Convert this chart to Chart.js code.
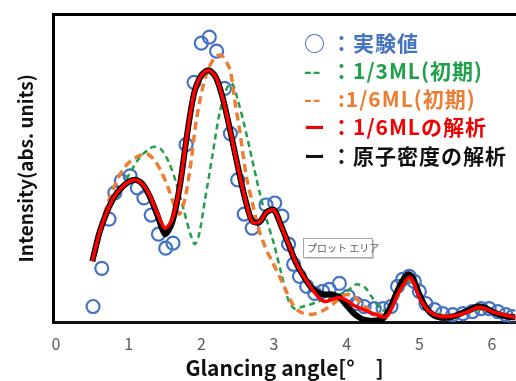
<!DOCTYPE html>
<html>
<head>
<meta charset="utf-8">
<script src="https://cdn.jsdelivr.net/npm/chart.js@4"></script>
<style>
  body { margin: 0; background: #fff; overflow: hidden; }
  #wrap { width: 516px; height: 381px; overflow: hidden; }
</style>
</head>
<body>
<div id="wrap"><canvas id="chart" width="524" height="381"></canvas></div>
<script>
// x tick labels
const tickVals = [0, 1, 2, 3, 4, 5, 6];

// experimental points (実験値)
const expX = [0.51, 0.63, 0.73, 0.81, 0.90, 1.02, 1.12, 1.21, 1.31, 1.41, 1.51, 1.61, 1.79, 1.90, 2.00, 2.11, 2.21, 2.32, 2.40, 2.50,
  2.59, 2.70, 2.89, 3.01, 3.11, 3.20, 3.27, 3.35, 3.45, 3.56, 3.67, 3.76, 3.90, 4.02, 4.13, 4.24, 4.38, 4.50, 4.61, 4.70,
  4.77, 4.86, 4.93, 5.00, 5.09, 5.21, 5.32, 5.46, 5.60, 5.73, 5.85, 5.96, 6.08, 6.19, 6.28];
const expY = [16, 54, 103, 129, 141, 146, 134, 124, 107, 88, 74, 79, 177, 239, 278, 284, 270, 233, 188, 142,
  108, 94, 117, 119, 106, 78, 58, 46, 36, 29, 31, 33, 39, 26, 19, 16, 14, 14, 16, 36,
  43, 46, 41, 31, 19, 13, 9, 8, 9, 11, 14, 14, 11, 8, 6];

// 1/3ML (初期) - green dashed
const ini13X = [0.55, 0.65, 0.75, 0.85, 0.95, 1.05, 1.15, 1.25, 1.35, 1.45, 1.55, 1.65, 1.75, 1.85, 1.91, 1.97, 2.05, 2.15, 2.25, 2.35,
  2.42, 2.5, 2.6, 2.7, 2.8, 2.9, 3.0, 3.1, 3.2, 3.28, 3.4, 3.5, 3.6, 3.7, 3.8, 3.9, 4.0, 4.13, 4.25, 4.35,
  4.45, 4.55, 4.65, 4.77, 4.88, 4.96, 5.05, 5.15, 5.3, 5.5, 5.7, 5.85, 6.0, 6.15, 6.35];
const ini13Y = [80, 101, 116, 126, 140, 153, 164, 171, 175, 172, 160, 140, 114, 88, 78, 88, 122, 165, 208, 233,
  238, 222, 194, 162, 130, 102, 78, 49, 22, 14, 16, 18, 21, 23, 25, 28, 31, 38, 35, 25,
  15, 11, 18, 34, 43, 36, 20, 11, 8, 8, 11, 13, 10, 8, 6];

// 1/6ML (初期) - orange dashed
const ini16X = [0.55, 0.65, 0.75, 0.85, 0.95, 1.05, 1.15, 1.25, 1.35, 1.45, 1.55, 1.63, 1.70, 1.78, 1.86, 1.93, 2.02, 2.10, 2.19, 2.27,
  2.34, 2.40, 2.46, 2.53, 2.62, 2.70, 2.78, 2.88, 2.98, 3.08, 3.17, 3.26, 3.35, 3.5, 3.65, 3.8, 3.9, 4.0, 4.1, 4.2,
  4.3, 4.45, 4.6, 4.72, 4.85, 4.95, 5.05, 5.15, 5.3, 5.5, 5.7, 5.85, 6.0, 6.15, 6.35];
const ini16Y = [70, 104, 126, 143, 155, 162, 166, 168, 162, 150, 133, 116, 108, 125, 161, 201, 234, 253, 264, 266,
  260, 250, 221, 190, 145, 120, 95, 75, 60, 45, 31, 18, 11, 8, 11, 18, 24, 28, 26, 19,
  13, 8, 14, 30, 44, 35, 20, 11, 7, 7, 11, 14, 11, 8, 6];

// 原子密度の解析 - black
const densX = [0.5, 0.6, 0.7, 0.8, 0.9, 1.0, 1.1, 1.2, 1.3, 1.4, 1.5, 1.6, 1.7, 1.8, 1.9, 2.0, 2.1, 2.2, 2.3, 2.4,
  2.5, 2.6, 2.7, 2.8, 2.9, 3.0, 3.1, 3.2, 3.3, 3.4, 3.5, 3.6, 3.7, 3.8, 3.9, 4.0, 4.1, 4.2, 4.3, 4.4,
  4.5, 4.6, 4.7, 4.8, 4.86, 4.92, 5.0, 5.1, 5.2, 5.3, 5.4, 5.5, 5.6, 5.7, 5.8, 5.9, 6.0, 6.1, 6.2, 6.35];
const densY = [61, 90, 110, 125, 134, 140, 142, 137, 124, 106, 88, 100, 134, 185, 228, 246, 251, 244, 222, 190,
  156, 124, 101, 100, 110, 112, 96, 78, 60, 47, 36, 30, 28, 28, 25, 17, 9, 4, 2, 2,
  4, 15, 32, 45, 48, 43, 28, 14, 7, 5, 5, 7, 10, 13, 16, 15, 11, 8, 6, 5];

// 1/6MLの解析 - red
const fit16X = [0.5, 0.6, 0.7, 0.8, 0.9, 1.0, 1.1, 1.2, 1.3, 1.4, 1.5, 1.6, 1.7, 1.8, 1.9, 2.0, 2.1, 2.2, 2.3, 2.4,
  2.5, 2.6, 2.7, 2.8, 2.9, 3.0, 3.1, 3.2, 3.3, 3.4, 3.5, 3.6, 3.7, 3.8, 3.9, 4.0, 4.1, 4.2, 4.3, 4.4,
  4.55, 4.7, 4.8, 4.86, 4.92, 5.0, 5.1, 5.2, 5.3, 5.4, 5.5, 5.6, 5.7, 5.8, 5.85, 5.9, 6.0, 6.1, 6.2, 6.35];
const fit16Y = [61, 90, 110, 125, 134, 140, 142, 137, 125, 108, 94, 103, 134, 185, 228, 246, 251, 244, 222, 190,
  156, 124, 100, 100, 110, 112, 96, 78, 60, 47, 36, 26, 21, 23, 25, 22, 17, 14, 11, 8,
  6, 28, 40, 45, 40, 25, 14, 8, 6, 6, 7, 9, 12, 15, 15, 14, 11, 9, 7, 5];

function pts(xs, ys) {
  return xs.map((x, i) => ({ x: x, y: ys[i] }));
}

// legend rows drawn as text inside the plot area
const legendRows = [
  { mark: '○', text: '：実験値', color: '#4472C4', y: 43 },
  { mark: '--', text: '：1/3ML(初期)', color: '#1FA04B', y: 71 },
  { mark: '--', text: ':1/6ML(初期)', color: '#ED7D31', y: 99 },
  { mark: 'ー', text: '：1/6MLの解析', color: '#F00000', y: 127 },
  { mark: 'ー', text: '：原子密度の解析', color: '#111111', y: 156 }
];

const overlay = {
  id: 'overlay',
  afterDraw(chart) {
    const ctx = chart.ctx;
    ctx.save();
    ctx.textBaseline = 'middle';
    ctx.font = 'bold 21px "Noto Sans CJK JP"';
    ctx.letterSpacing = '1px';
    legendRows.forEach(r => {
      ctx.fillStyle = r.color;
      ctx.fillText(r.mark, 304, r.y);
      ctx.fillText(r.text, r.text[0] === ':' ? 338 : 331, r.y);
    });
    ctx.letterSpacing = '0px';
    // Excel hover tip left in the screenshot
    ctx.fillStyle = '#ffffff';
    ctx.strokeStyle = '#a6a6a6';
    ctx.lineWidth = 1;
    ctx.fillRect(303.5, 238.5, 69, 19);
    ctx.strokeRect(303.5, 238.5, 69, 19);
    ctx.strokeStyle = '#d0d0d0';
    ctx.beginPath();
    ctx.moveTo(305, 258.5); ctx.lineTo(373.5, 258.5); ctx.lineTo(373.5, 240);
    ctx.stroke();
    ctx.fillStyle = '#595959';
    ctx.font = '10px "Noto Sans CJK JP"';
    ctx.fillText('プロット エリア', 307, 248);
    ctx.restore();
  }
};

new Chart(document.getElementById('chart'), {
  type: 'scatter',
  data: {
    datasets: [
      {
        label: '1/6MLの解析',
        data: pts(fit16X, fit16Y),
        showLine: true,
        borderColor: '#FF0000',
        borderWidth: 3.5,
        pointRadius: 0,
        tension: 0.3,
        order: 0
      },
      {
        label: '原子密度の解析',
        data: pts(densX, densY),
        showLine: true,
        borderColor: '#000000',
        borderWidth: 6,
        pointRadius: 0,
        tension: 0.3,
        order: 1
      },
      {
        label: '1/6ML(初期)',
        data: pts(ini16X, ini16Y),
        showLine: true,
        borderColor: '#ED7D31',
        borderWidth: 3.5,
        borderDash: [8, 5],
        pointRadius: 0,
        tension: 0.3,
        order: 2
      },
      {
        label: '1/3ML(初期)',
        data: pts(ini13X, ini13Y),
        showLine: true,
        borderColor: '#1FA04B',
        borderWidth: 2.5,
        borderDash: [6, 4],
        pointRadius: 0,
        tension: 0.3,
        order: 3
      },
      {
        label: '実験値',
        data: pts(expX, expY),
        showLine: false,
        pointStyle: 'circle',
        pointRadius: 6.5,
        pointBorderWidth: 2.2,
        pointBorderColor: '#4472C4',
        pointBackgroundColor: 'rgba(0,0,0,0)',
        order: 4
      }
    ]
  },
  options: {
    responsive: false,
    animation: false,
    events: [],
    layout: { padding: { left: 10, right: 0, top: 14, bottom: 0 } },
    plugins: {
      legend: { display: false },
      tooltip: { enabled: false }
    },
    scales: {
      x: {
        type: 'linear',
        position: 'bottom',
        min: -0.03,
        max: 6.32,
        afterBuildTicks: s => { s.ticks = tickVals.map(v => ({ value: v })); },
        ticks: {
          color: '#595959',
          padding: 12,
          font: { family: '"Noto Sans CJK JP"', size: 16 }
        },
        grid: { drawOnChartArea: false, drawTicks: false },
        border: { display: true, color: '#111', width: 3 },
        title: {
          display: true,
          text: 'Glancing angle[°　]',
          color: '#111',
          padding: { top: -10, bottom: 0 },
          font: { family: '"Noto Sans CJK JP"', size: 21, weight: 'bold' }
        }
      },
      xTop: {
        type: 'linear',
        position: 'top',
        ticks: { display: false },
        grid: { drawOnChartArea: false, drawTicks: false },
        border: { display: true, color: '#000', width: 3 }
      },
      y: {
        min: 0,
        max: 307,
        ticks: { display: false },
        grid: { drawOnChartArea: false, drawTicks: false },
        border: { display: true, color: '#000', width: 3 },
        title: {
          display: true,
          text: 'Intensity(abs. units)',
          color: '#111',
          padding: { top: 4, bottom: 17 },
          font: { family: '"Noto Sans CJK JP"', size: 19, weight: 'bold' }
        }
      }
    }
  },
  plugins: [overlay]
});
</script>
</body>
</html>
